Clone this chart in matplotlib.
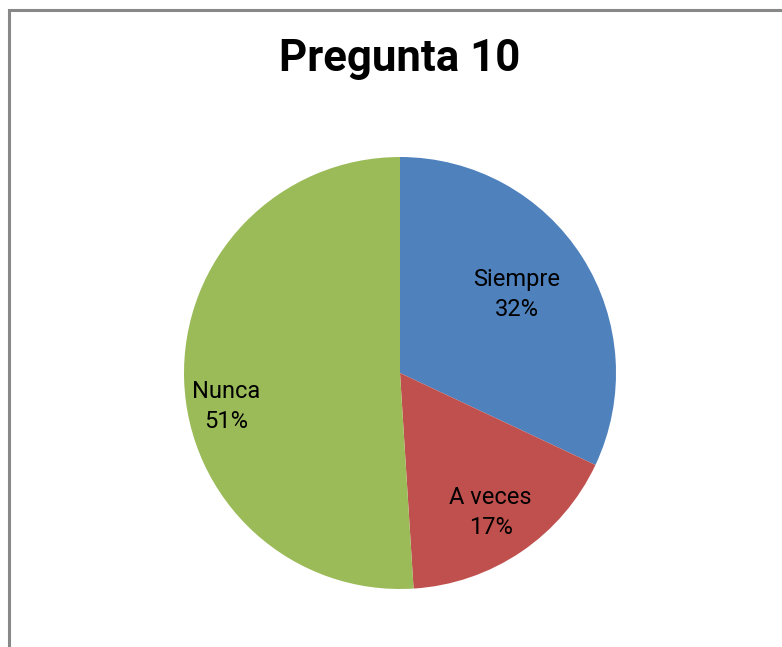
import numpy as np
import matplotlib.pyplot as plt
from matplotlib.patches import Rectangle

# Data
categories = ['Siempre', 'A veces', 'Nunca']
percents = [32, 17, 51]
colors = ['#4F81BD', '#C0504D', '#9BBB59']

# label placement (fraction of radius, angle tweak in degrees)
label_dist = [0.65, 0.77, 0.82]
label_shift = [1.5, -1.2, 9.0]

plt.rcParams['font.family'] = ['Roboto', 'DejaVu Sans']

W, H = 782, 647
fig = plt.figure(figsize=(W / 100, H / 100), dpi=100)
fig.patch.set_facecolor('white')

# chart area border (left and top visible)
fig.add_artist(Rectangle((8.5 / W, -0.1), 2.0, 1.1 - 9.5 / H, transform=fig.transFigure,
                         fill=False, edgecolor='#888888', linewidth=2.2))

# pie axes: centre (400, 373), radius 216 px
cx, cy, r = 400, 373, 216
ax = fig.add_axes([(cx - r) / W, (H - cy - r) / H, 2 * r / W, 2 * r / H])
wedges, _ = ax.pie(percents, colors=colors, startangle=90, counterclock=False,
                   radius=1, labels=None, wedgeprops=dict(linewidth=0))
ax.set_xlim(-1, 1)
ax.set_ylim(-1, 1)
ax.set_aspect('equal')
ax.axis('off')

for w, name, p, d, s in zip(wedges, categories, percents, label_dist, label_shift):
    ang = np.deg2rad((w.theta1 + w.theta2) / 2 + s)
    ax.text(d * np.cos(ang), d * np.sin(ang), f'{name}\n{p}%',
            ha='center', va='center', fontsize=17, linespacing=1.4, color='black')

fig.text(400 / W, 1 - 59 / H, 'Pregunta 10', ha='center', va='center',
         fontsize=31.5, fontweight='bold')

fig.savefig('out.png', dpi=100)
